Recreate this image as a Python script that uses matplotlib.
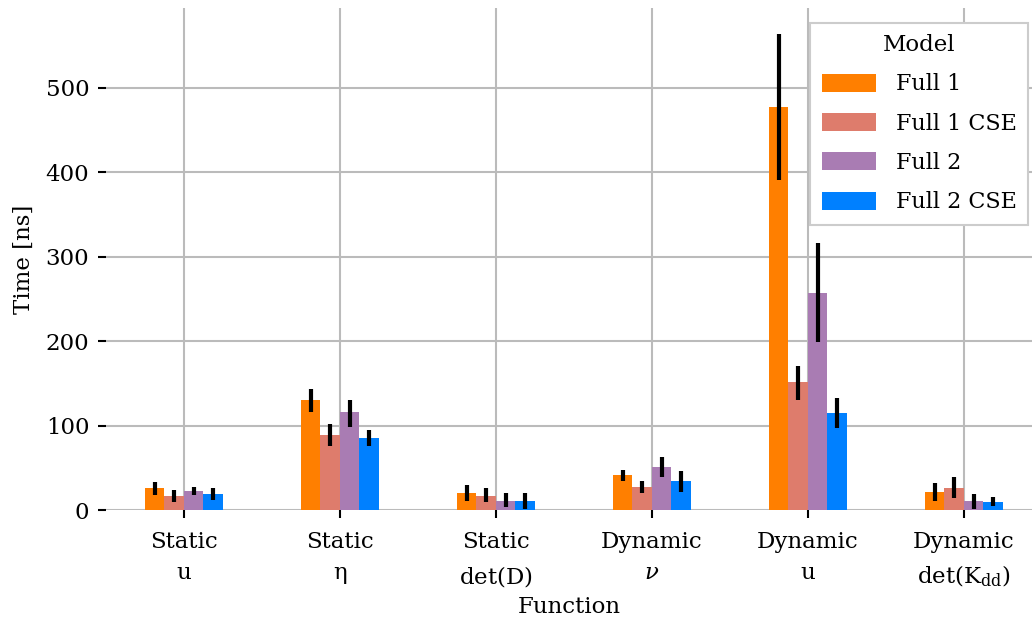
import matplotlib
matplotlib.use("Agg")
import matplotlib.pyplot as plt
import numpy as np

categories = ["Static\n$\\mathrm{u}$", "Static\n$\\mathrm{\\eta}$", "Static\n$\\mathrm{det(D)}$",
              "Dynamic\n$\\nu$", "Dynamic\n$\\mathrm{u}$", "Dynamic\n$\\mathrm{det(K_{dd})}$"]
models = ["Full 1", "Full 1 CSE", "Full 2", "Full 2 CSE"]
colors = ["#FF7F00", "#DE7C6C", "#A97CB3", "#0080FF"]

full1 = [26, 130, 21, 42, 478, 22]
full1_lo = [18, 116, 11.5, 35, 391, 11]
full1_hi = [33, 144, 30, 48, 564, 32]

full1cse = [16.5, 89, 17.5, 28, 152, 26.5]
full1cse_lo = [9.5, 76, 10, 20, 131, 14.5]
full1cse_hi = [24, 102, 26, 35, 171, 39.5]

full2 = [22.5, 116, 11.5, 51, 257, 11]
full2_lo = [18, 99, 3.5, 40, 199, 2]
full2_hi = [28, 131, 20, 63, 316, 19]

full2cse = [19, 86, 10.5, 35, 115, 10]
full2cse_lo = [12, 76, 1, 22, 98, 4.7]
full2cse_hi = [26, 95, 21, 46, 133, 15.5]

values = [full1, full1cse, full2, full2cse]
lows = [full1_lo, full1cse_lo, full2_lo, full2cse_lo]
highs = [full1_hi, full1cse_hi, full2_hi, full2cse_hi]

plt.rcParams['font.family'] = ['DejaVu Serif']
plt.rcParams['mathtext.fontset'] = 'custom'
plt.rcParams['mathtext.rm'] = 'DejaVu Serif'
plt.rcParams['mathtext.it'] = 'DejaVu Serif:italic'

fig = plt.figure(figsize=(10.32, 6.2), dpi=100)
ax = fig.add_axes([106/1032, 1 - 510.3/620, 1 - 106/1032, (510.3 - 8)/620])

x = np.arange(len(categories))
w = 0.125
for i, (m, c) in enumerate(zip(models, colors)):
    pos = x + (i - 1.5) * w
    v = np.array(values[i])
    lo = v - np.array(lows[i])
    hi = np.array(highs[i]) - v
    ax.bar(pos, v, width=w, color=c, label=m, zorder=2)
    ax.errorbar(pos, v, yerr=[lo, hi], fmt='none', ecolor='black', elinewidth=3, capsize=0, zorder=3)

ax.set_xlim(-0.5, 5.436)
ax.set_ylim(0, 594.7)
ax.set_xticks(x)
ax.set_xticklabels(categories, fontsize=16.5)
for t in ax.get_xticklabels():
    t.set_linespacing(1.55)
ax.set_yticks([0, 100, 200, 300, 400, 500])
ax.tick_params(axis='y', labelsize=16.5, length=6, width=1.5, pad=6)
ax.tick_params(axis='x', length=6, width=1.5, pad=9)
ax.grid(True, color='#bbbbbb', linewidth=1.5, zorder=0)
ax.set_axisbelow(True)
for s in ax.spines.values():
    s.set_visible(False)
ax.set_xlabel("Function", fontsize=16.5, labelpad=5)
ax.set_ylabel("Time [ns]", fontsize=16.5, labelpad=8)

leg = ax.legend(title="Model", fontsize=16, title_fontsize=16.5, loc='upper right',
                bbox_to_anchor=((1028 - 106) / 926, (510.3 - 23) / 502.3), borderaxespad=0,
                fancybox=False, framealpha=1, edgecolor='#cccccc',
                handlelength=2.45, handleheight=0.86, labelspacing=0.78,
                handletextpad=0.9, borderpad=0.5)
leg.get_frame().set_linewidth(1.5)

fig.savefig("out.png", dpi=100)
